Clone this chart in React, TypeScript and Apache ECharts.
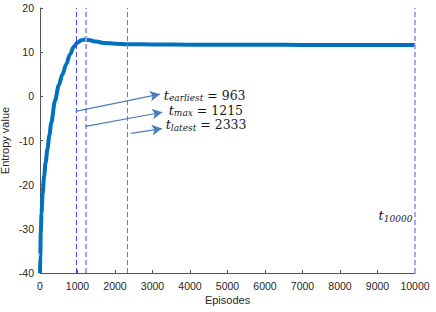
import React, { useEffect, useRef } from "react";
import * as echarts from "echarts";

const episodes = [0, 8, 20, 40, 70, 110, 150, 200, 250, 300, 400, 500, 600, 700, 800, 900, 1000, 1100, 1200, 1300, 1500, 1700, 2000, 2333, 3000, 4000, 5000, 6000, 7000, 8000, 9000, 10000];
const entropy = [-40, -36, -31, -26.5, -22, -18, -15, -11.8, -8.8, -6, -1, 2.5, 5, 7.3, 9.5, 11.2, 12.2, 12.7, 12.85, 12.75, 12.4, 12.1, 11.9, 11.8, 11.75, 11.7, 11.7, 11.7, 11.65, 11.65, 11.6, 11.6];
const markers = [963, 1215, 2333, 10000];
const markerColors = ["#4a4aff", "#9e9eff", "#6f6fff", "#a6a6ff"];
const markerWidths = [1, 2, 1, 2];
const yTicks = [-40, -30, -20, -10, 0, 10, 20];

export default function App() {
  const ref = useRef<HTMLDivElement>(null);
  useEffect(() => {
    const chart = echarts.init(ref.current!, null, { renderer: "svg" });
    const serif = "'DejaVu Serif', 'Liberation Serif', serif";
    const sans = "'Liberation Sans', Arial, sans-serif";
    const rich = {
      t: { fontFamily: serif, fontStyle: "italic", fontSize: 13, color: "#1a1a1a", verticalAlign: "top", lineHeight: 14 },
      s: { fontFamily: serif, fontStyle: "italic", fontSize: 9, color: "#1a1a1a", verticalAlign: "bottom", lineHeight: 14, padding: [5, 0, 0, 0] },
      n: { fontFamily: serif, fontSize: 12.5, color: "#1a1a1a", verticalAlign: "top", lineHeight: 14 },
    };
    chart.setOption({
      animation: false,
      grid: { left: 40, right: 21, top: 8, bottom: 39, containLabel: false, outerBoundsMode: "none" },
      xAxis: {
        type: "value",
        min: 0,
        max: 10000,
        interval: 1000,
        name: "Episodes",
        nameLocation: "middle",
        nameGap: 21,
        nameMoveOverlap: false,
        nameTextStyle: { fontFamily: sans, fontSize: 11, color: "#262626" },
        axisLine: { onZero: false, lineStyle: { color: "#555", width: 1 } },
        axisTick: { inside: true, length: 3, lineStyle: { color: "#555" } },
        axisLabel: { fontFamily: sans, fontSize: 10.5, color: "#262626", margin: 7, formatter: (v: number) => String(v) },
        splitLine: { show: false },
      },
      yAxis: {
        type: "value",
        min: yTicks[0],
        max: yTicks[yTicks.length - 1],
        interval: 10,
        name: "Entropy value",
        nameLocation: "middle",
        nameGap: 30,
        nameMoveOverlap: false,
        nameTextStyle: { fontFamily: sans, fontSize: 11, color: "#262626" },
        axisLine: { show: true, onZero: false, lineStyle: { color: "#555", width: 1 } },
        axisTick: { show: true, inside: true, length: 3, lineStyle: { color: "#555" } },
        axisLabel: { fontFamily: sans, fontSize: 10.5, color: "#262626", margin: 6 },
        splitLine: { show: false },
      },
      series: [
        {
          type: "line",
          data: episodes.map((e, i) => [e, entropy[i]]),
          smooth: 0.3,
          smoothMonotone: "x",
          showSymbol: false,
          lineStyle: { color: "#0072BD", width: 4 },
          z: 3,
          markLine: {
            silent: true,
            symbol: ["none", "none"],
            label: { show: false },
            data: markers.map((m, i) => [
              { coord: [m, -40], lineStyle: { color: markerColors[i], width: markerWidths[i], type: [5, 3] } },
              { coord: [m, 20] },
            ]),
          },
        },
        {
          type: "line",
          data: [],
          markLine: {
            silent: true,
            symbol: ["none", "arrow"],
            symbolSize: [8, 10],
            label: { show: false },
            lineStyle: { color: "#4a7ebb", width: 1.2, type: "solid" },
            data: [
              [{ coord: [950, -3.4] }, { coord: [3200, 0.5] }],
              [{ coord: [1215, -6.8] }, { coord: [3260, -3.6] }],
              [{ coord: [2430, -8.4] }, { coord: [3250, -7.3] }],
            ],
          },
          markPoint: {
            symbol: "circle",
            symbolSize: 0,
            silent: true,
            label: { show: true, position: "right", distance: 0 },
            data: [
              { coord: [3300, 0.1], label: { formatter: "{t|t}{s|earliest}{n| = 963}", rich } },
              { coord: [3430, -3.3], label: { formatter: "{t|t}{s|max}{n| = 1215}", rich } },
              { coord: [3350, -6.6], label: { formatter: "{t|t}{s|latest}{n| = 2333}", rich } },
              { coord: [9930, -27.2], label: { position: "left", formatter: "{t|t}{s|10000}", rich } },
            ],
          },
        },
      ],
    });
    return () => chart.dispose();
  }, []);
  return <div ref={ref} style={{ width: 436, height: 312, position: "absolute", left: 0, top: 0 }} />;
}
